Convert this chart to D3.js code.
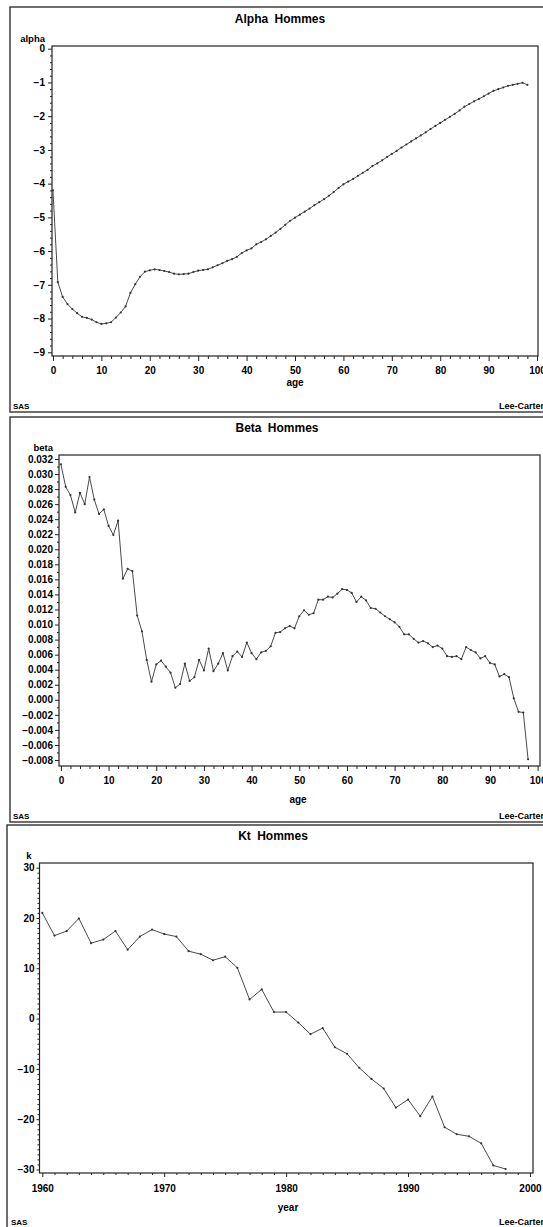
<!DOCTYPE html>
<html>
<head>
<meta charset="utf-8">
<script src="https://cdn.jsdelivr.net/npm/d3@7"></script>
<style>
body { margin: 0; background: #fff; }
svg { display: block; }
text { font-family: "Liberation Sans", Arial, sans-serif; font-weight: bold; fill: #000; }
</style>
</head>
<body>
<svg id="chart" width="543" height="1227"></svg>
<script>
var ages = [0,1,2,3,4,5,6,7,8,9,10,11,12,13,14,15,16,17,18,19,20,21,22,23,24,25,26,27,28,29,
	30,31,32,33,34,35,36,37,38,39,40,41,42,43,44,45,46,47,48,49,50,51,52,53,54,55,56,57,58,59,
	60,61,62,63,64,65,66,67,68,69,70,71,72,73,74,75,76,77,78,79,80,81,82,83,84,85,86,87,88,89,
	90,91,92,93,94,95,96,97,98];

var alphaValues = [-4.20,-6.92,-7.36,-7.57,-7.72,-7.84,-7.95,-7.98,-8.03,-8.11,
	-8.16,-8.14,-8.11,-7.97,-7.82,-7.64,-7.24,-6.98,-6.76,-6.61,
	-6.57,-6.54,-6.56,-6.59,-6.62,-6.67,-6.69,-6.68,-6.67,-6.62,
	-6.58,-6.56,-6.54,-6.48,-6.42,-6.36,-6.29,-6.24,-6.17,-6.06,
	-5.98,-5.92,-5.80,-5.73,-5.65,-5.55,-5.45,-5.34,-5.22,-5.10,
	-5.01,-4.92,-4.83,-4.74,-4.64,-4.55,-4.46,-4.36,-4.25,-4.13,
	-4.02,-3.94,-3.86,-3.77,-3.68,-3.59,-3.48,-3.40,-3.31,-3.21,
	-3.12,-3.03,-2.93,-2.84,-2.75,-2.66,-2.57,-2.48,-2.38,-2.29,
	-2.20,-2.11,-2.02,-1.93,-1.83,-1.72,-1.64,-1.56,-1.49,-1.41,
	-1.33,-1.25,-1.20,-1.15,-1.10,-1.07,-1.04,-1.01,-1.07];

var betaValues = [0.0313,0.0283,0.0272,0.0249,0.0275,0.0260,0.0296,0.0266,0.0247,0.0253,
	0.0231,0.0219,0.0238,0.0161,0.0174,0.0171,0.0112,0.0091,0.0053,0.0024,
	0.0047,0.0052,0.0044,0.0036,0.0016,0.0021,0.0048,0.0025,0.0030,0.0053,
	0.0039,0.0068,0.0038,0.0048,0.0062,0.0039,0.0058,0.0064,0.0057,0.0076,
	0.0062,0.0054,0.0063,0.0065,0.0071,0.0089,0.0090,0.0095,0.0098,0.0095,
	0.0111,0.0119,0.0113,0.0115,0.0133,0.0133,0.0137,0.0136,0.0141,0.0147,
	0.0146,0.0142,0.0130,0.0137,0.0132,0.0122,0.0121,0.0116,0.0111,0.0107,
	0.0103,0.0097,0.0087,0.0087,0.0081,0.0076,0.0078,0.0075,0.0070,0.0072,
	0.0068,0.0058,0.0057,0.0058,0.0054,0.0070,0.0066,0.0063,0.0055,0.0058,
	0.0049,0.0047,0.0031,0.0034,0.0030,0.0002,-0.0016,-0.0017,-0.0079];

var ktYears = [1960,1961,1962,1963,1964,1965,1966,1967,1968,1969,
	1970,1971,1972,1973,1974,1975,1976,1977,1978,1979,
	1980,1981,1982,1983,1984,1985,1986,1987,1988,1989,
	1990,1991,1992,1993,1994,1995,1996,1997,1998];

var ktValues = [21.0,16.5,17.4,19.9,15.0,15.7,17.4,13.7,16.3,17.7,
	16.8,16.3,13.4,12.8,11.6,12.3,10.1,3.8,5.8,1.3,
	1.3,-0.8,-3.1,-1.9,-5.7,-7.0,-9.8,-12.0,-13.9,-17.7,
	-16.1,-19.4,-15.5,-21.6,-23.0,-23.4,-24.8,-29.2,-29.9];

var alphaTicks = [0,-1,-2,-3,-4,-5,-6,-7,-8,-9],
	betaTicks = [0.032,0.030,0.028,0.026,0.024,0.022,0.020,0.018,0.016,0.014,0.012,0.010,0.008,
		0.006,0.004,0.002,0.000,-0.002,-0.004,-0.006,-0.008],
	ageTicks = [0,10,20,30,40,50,60,70,80,90,100],
	ktTicks = [30,20,10,0,-10,-20,-30],
	yearTicks = [1960,1970,1980,1990,2000];

var svg = d3.select('#chart');
var minus = s => s.replace('-', '\u2212');

function minorBetween(major, n) {
	var out = [];
	for (var i = 0; i < major.length - 1; i++) {
		var a = major[i], b = major[i + 1];
		for (var k = 1; k <= n; k++) out.push(a + (b - a) * k / (n + 1));
	}
	return out;
}

function makePanel(p) {
	var g = svg.append('g');

	// window border
	g.append('rect')
		.attr('x', p.border[0]).attr('y', p.border[1])
		.attr('width', p.border[2] - p.border[0]).attr('height', p.border[3] - p.border[1])
		.attr('fill', 'none').attr('stroke', '#333').attr('stroke-width', 1.4);

	g.append('text')
		.attr('x', p.titleX).attr('y', p.titleY)
		.attr('text-anchor', 'middle')
		.style('font-size', '12px')
		.style('word-spacing', '3px')
		.text(p.title);

	var x = d3.scaleLinear().domain(p.xDomain).range([p.frame.l, p.frame.r]),
	    y = d3.scaleLinear().domain(p.yDomain).range([p.frame.b, p.frame.t]);

	g.append('g')
		.attr('transform', 'translate(0,' + p.frame.b + ')')
		.call(d3.axisBottom(x).tickValues(p.xMinor).tickSize(p.xMinorSize).tickFormat(''))
		.call(a => a.select('.domain').remove());
	g.append('g')
		.attr('transform', 'translate(0,' + p.frame.b + ')')
		.call(d3.axisBottom(x).tickValues(p.xTicks).tickSize(p.xTickSize).tickPadding(p.xPad).tickFormat(d3.format('d')))
		.call(a => a.select('.domain').remove())
		.selectAll('text').style('font-size', '10px').style('font-family', null);

	g.append('g')
		.attr('transform', 'translate(' + p.frame.l + ',0)')
		.call(d3.axisLeft(y).tickValues(p.yMinor).tickSize(p.yMinorSize).tickFormat(''))
		.call(a => a.select('.domain').remove());
	g.append('g')
		.attr('transform', 'translate(' + p.frame.l + ',0)')
		.call(d3.axisLeft(y).tickValues(p.yTicks).tickSize(p.yTickSize).tickPadding(p.yPad)
			.tickFormat(d => minus(p.yFormat(d))))
		.call(a => a.select('.domain').remove())
		.selectAll('text').style('font-size', '10px').style('font-family', null);

	g.selectAll('.tick line').attr('stroke', '#222');

	g.append('rect')
		.attr('x', p.frame.l).attr('y', p.frame.t)
		.attr('width', p.frame.r - p.frame.l).attr('height', p.frame.b - p.frame.t)
		.attr('fill', 'none').attr('stroke', '#222').attr('stroke-width', 1.2);

	var pts = p.xs.map((d, i) => ({x: d, v: p.vs[i]}));

	var line = d3.line()
		.x(d => x(d.x))
		.y(d => y(d.v));

	g.append('path')
		.datum(pts)
		.attr('fill', 'none')
		.attr('stroke', '#4a4a4a')
		.attr('stroke-width', 1)
		.attr('stroke-linejoin', 'round')
		.attr('d', line);

	g.selectAll('.dot')
		.data(pts)
		.enter().append('circle')
		.attr('class', 'dot')
		.attr('cx', d => x(d.x))
		.attr('cy', d => y(d.v))
		.attr('r', 1.1)
		.attr('fill', '#333');

	g.append('text')
		.attr('x', p.yLabelX).attr('y', p.yLabelY)
		.attr('text-anchor', p.yLabelAnchor)
		.style('font-size', '9.5px')
		.text(p.yLabel);

	g.append('text')
		.attr('x', p.xLabelX).attr('y', p.xLabelY)
		.attr('text-anchor', 'middle')
		.style('font-size', '10px')
		.text(p.xLabel);

	g.append('text')
		.attr('x', p.sasX).attr('y', p.footY)
		.style('font-size', '8px')
		.text('SAS');
	g.append('text')
		.attr('x', 499).attr('y', p.footY)
		.style('font-size', '9px')
		.text('Lee-Carter');
}

makePanel({
	border: [10, 7, 560, 412],
	title: 'Alpha Hommes', titleX: 280, titleY: 23,
	frame: {l: 52, r: 538, t: 46, b: 356},
	xDomain: [-0.2, 100.2], yDomain: [-9.11, 0.08],
	xTicks: ageTicks, xMinor: minorBetween(ageTicks, 4), xTickSize: 5, xMinorSize: 3, xPad: 6,
	yTicks: alphaTicks, yMinor: minorBetween(alphaTicks, 4), yTickSize: 4, yMinorSize: 2, yPad: 3,
	yFormat: d3.format('d'),
	xs: ages, vs: alphaValues,
	yLabel: 'alpha', yLabelX: 45, yLabelY: 42, yLabelAnchor: 'end',
	xLabel: 'age', xLabelX: 295, xLabelY: 386,
	footY: 409, sasX: 13
});

makePanel({
	border: [10, 417, 560, 822],
	title: 'Beta Hommes', titleX: 277, titleY: 432,
	frame: {l: 59, r: 540, t: 455, b: 766},
	xDomain: [-0.4, 100.5], yDomain: [-0.0088, 0.03253],
	xTicks: ageTicks, xMinor: minorBetween(ageTicks, 4), xTickSize: 5, xMinorSize: 3, xPad: 6,
	yTicks: betaTicks, yMinor: minorBetween(betaTicks, 1), yTickSize: 4, yMinorSize: 2, yPad: 2,
	yFormat: d3.format('.3f'),
	xs: ages, vs: betaValues,
	yLabel: 'beta', yLabelX: 53, yLabelY: 451, yLabelAnchor: 'end',
	xLabel: 'age', xLabelX: 298, xLabelY: 803,
	footY: 819, sasX: 13
});

makePanel({
	border: [7, 825, 560, 1240],
	title: 'Kt Hommes', titleX: 273, titleY: 840,
	frame: {l: 39.5, r: 533, t: 863, b: 1173},
	xDomain: [1959.77, 2000.25], yDomain: [-30.7, 30.93],
	xTicks: yearTicks, xMinor: minorBetween(yearTicks, 9), xTickSize: 4, xMinorSize: 2, xPad: 8,
	yTicks: ktTicks, yMinor: minorBetween(ktTicks, 9), yTickSize: 3, yMinorSize: 2, yPad: 2,
	yFormat: d3.format('d'),
	xs: ktYears, vs: ktValues,
	yLabel: 'k', yLabelX: 29, yLabelY: 859, yLabelAnchor: 'middle',
	xLabel: 'year', xLabelX: 288, xLabelY: 1211,
	footY: 1225, sasX: 11
});
</script>
</body>
</html>
